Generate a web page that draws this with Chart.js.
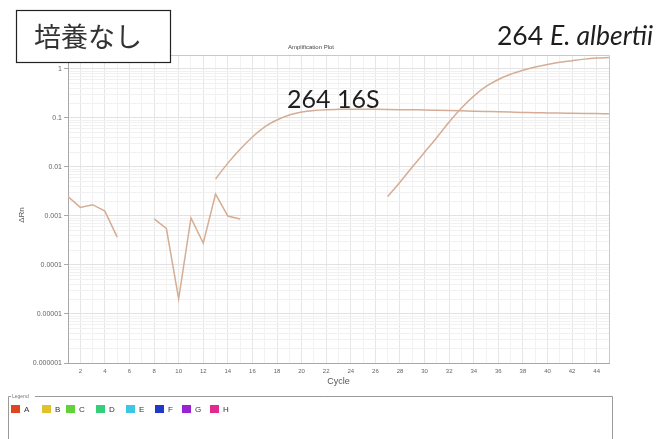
<!DOCTYPE html>
<html>
<head>
<meta charset="utf-8">
<script src="https://cdn.jsdelivr.net/npm/chart.js@4/dist/chart.umd.min.js"></script>
<style>
  html, body { margin: 0; padding: 0; background: #fff; }
  canvas { display: block; }
</style>
</head>
<body>
<canvas id="plot" width="665" height="439"></canvas>
<script>
// Cycle numbers on the x axis
const cycles = [1,2,3,4,5,6,7,8,9,10,11,12,13,14,15,16,17,18,19,20,21,22,23,24,25,26,27,28,29,30,31,32,33,34,35,36,37,38,39,40,41,42,43,44,45];

// ΔRn per cycle (null where the value is not plotted)
const albertiiEarly = [0.0025,0.0015,0.0017,0.00126,0.00037,null,null,0.00087,0.00056,0.0000204,0.00091,0.00028,0.0028,0.001,0.00087,
  null,null,null,null,null,null,null,null,null,null,null,null,null,null,null,null,null,null,null,null,null,null,null,null,null,null,null,null,null,null];

const s16Values = [null,null,null,null,null,null,null,null,null,null,null,null,
  0.0057,0.012,0.023,0.041,0.066,0.091,0.115,0.132,0.142,0.148,0.150,0.151,0.151,0.150,0.149,0.148,0.147,0.146,0.144,0.142,0.140,0.138,0.136,0.134,0.132,0.130,0.128,0.127,0.126,0.125,0.124,0.123,0.122];

const albertiiValues = [null,null,null,null,null,null,null,null,null,null,null,null,null,null,null,null,null,null,null,null,null,null,null,null,null,null,
  0.0025,0.0049,0.0100,0.020,0.040,0.083,0.160,0.280,0.44,0.61,0.78,0.94,1.10,1.24,1.37,1.48,1.59,1.67,1.72];

// Axis tick labels
const yTickLabels = ['0.000001','0.00001','0.0001','0.001','0.01','0.1','1'];
const xTickLabels = ['2','4','6','8','10','12','14','16','18','20','22','24','26','28','30','32','34','36','38','40','42','44'];

// Well legend
const legendNames = ['A','B','C','D','E','F','G','H'];
const legendColors = ['#e0461e','#e2c22c','#62d23a','#34cf78','#3ec6e6','#2238c8','#9a22d4','#e02a8c'];

// Text labels
const panelLabel = '培養なし';
const chartTitle = 'Amplification Plot';
const label16S = '264 16S';
const labelAlbertiiPrefix = '264 ';
const labelAlbertiiSpecies = 'E. albertii';

const lineColor = '#d4ad94';
const yMin = 1e-6, yMax = 1.93;
const minorSteps = [2,3,4,5,6,7,8,9];

function toPoints(values) {
  return cycles.map((c, i) => ({ x: c, y: values[i] }));
}

const decorations = {
  id: 'decorations',
  beforeDraw(chart) {
    const ctx = chart.ctx;
    ctx.save();
    ctx.fillStyle = '#fff';
    ctx.fillRect(0, 0, chart.width, chart.height);
    ctx.restore();
  },
  afterDraw(chart) {
    const ctx = chart.ctx;
    const a = chart.chartArea;
    ctx.save();

    // frame on top and right of the plot area
    ctx.strokeStyle = '#c9c9c9';
    ctx.lineWidth = 1;
    ctx.beginPath();
    ctx.moveTo(a.left, a.top + 0.5);
    ctx.lineTo(a.right + 0.5, a.top + 0.5);
    ctx.lineTo(a.right + 0.5, a.bottom);
    ctx.stroke();

    // chart title
    ctx.fillStyle = '#444';
    ctx.font = '6px "Liberation Sans", Arial, sans-serif';
    ctx.textAlign = 'center';
    ctx.textBaseline = 'middle';
    ctx.fillText(chartTitle, 311, 47);

    // y axis title
    ctx.save();
    ctx.translate(22, 215);
    ctx.rotate(-Math.PI / 2);
    ctx.fillStyle = '#555';
    ctx.font = '8px "Liberation Sans", Arial, sans-serif';
    ctx.fillText('ΔRn', 0, 0);
    ctx.restore();

    // panel label box
    ctx.fillStyle = '#fff';
    ctx.fillRect(16, 10, 155, 53);
    ctx.strokeStyle = '#222';
    ctx.lineWidth = 1.2;
    ctx.strokeRect(16.5, 10.5, 154, 52);
    ctx.fillStyle = '#333';
    ctx.font = '27px "Noto Sans CJK JP", sans-serif';
    ctx.textAlign = 'left';
    ctx.textBaseline = 'alphabetic';
    ctx.fillText(panelLabel, 34, 47);

    // curve labels
    ctx.fillStyle = '#1e1e1e';
    ctx.font = '25px Lato, "Open Sans", sans-serif';
    ctx.fillText(label16S, 287, 108);
    ctx.font = '26.5px Lato, "Open Sans", sans-serif';
    ctx.fillText(labelAlbertiiPrefix, 497, 45);
    const w = ctx.measureText(labelAlbertiiPrefix).width;
    ctx.font = 'italic 26.5px Lato, "Open Sans", sans-serif';
    ctx.fillText(labelAlbertiiSpecies, 497 + w, 45);

    // legend panel
    ctx.strokeStyle = '#9a9a9a';
    ctx.lineWidth = 1;
    ctx.beginPath();
    ctx.moveTo(11, 396.5);
    ctx.lineTo(8.5, 396.5);
    ctx.lineTo(8.5, 439);
    ctx.moveTo(35, 396.5);
    ctx.lineTo(612.5, 396.5);
    ctx.lineTo(612.5, 439);
    ctx.stroke();
    ctx.fillStyle = '#777';
    ctx.font = '5px "Liberation Sans", Arial, sans-serif';
    ctx.textBaseline = 'middle';
    ctx.fillText('Legend', 12, 396.5);

    const itemX = [11, 42, 66, 96, 126, 155, 182, 210];
    ctx.font = '8px "Liberation Sans", Arial, sans-serif';
    legendNames.forEach((name, i) => {
      const x = itemX[i];
      ctx.fillStyle = legendColors[i];
      ctx.fillRect(x, 405, 9, 8);
      ctx.fillStyle = '#333';
      ctx.fillText(name, x + 13, 409.5);
    });

    ctx.restore();
  }
};

new Chart(document.getElementById('plot'), {
  type: 'line',
  data: {
    datasets: [
      { label: '264 E. albertii (early cycles)', data: toPoints(albertiiEarly), tension: 0 },
      { label: label16S, data: toPoints(s16Values), cubicInterpolationMode: 'monotone' },
      { label: labelAlbertiiPrefix + labelAlbertiiSpecies, data: toPoints(albertiiValues), cubicInterpolationMode: 'monotone' }
    ].map(d => Object.assign({
      borderColor: lineColor,
      borderWidth: 1.5,
      pointRadius: 0,
      spanGaps: false,
      fill: false
    }, d))
  },
  options: {
    responsive: false,
    animation: false,
    events: [],
    layout: { padding: { top: 55, right: 56, left: 0, bottom: 48 } },
    plugins: {
      legend: { display: false },
      title: { display: false },
      tooltip: { enabled: false }
    },
    scales: {
      x: {
        type: 'linear',
        min: 1,
        max: 45,
        afterFit(scale) { scale.height = 28; },
        afterBuildTicks(scale) {
          scale.ticks = cycles.map(c => ({ value: c }));
        },
        ticks: {
          autoSkip: false,
          maxRotation: 0,
          padding: 1,
          color: '#666',
          font: { size: 6, family: '"Liberation Sans", Arial, sans-serif' },
          callback(value) {
            const s = String(value);
            return xTickLabels.includes(s) ? s : '';
          }
        },
        grid: {
          color(ctx) {
            const v = ctx.tick && ctx.tick.value;
            return v % 2 === 0 ? '#e6e6e6' : '#f2f2f2';
          },
          tickLength: 4,
          tickColor: 'rgba(0,0,0,0)'
        },
        border: { color: '#a8a8a8', width: 1 },
        title: {
          display: true,
          text: 'Cycle',
          color: '#555',
          font: { size: 9, family: '"Liberation Sans", Arial, sans-serif' },
          padding: { top: 0, bottom: 4 }
        }
      },
      y: {
        type: 'logarithmic',
        min: yMin,
        max: yMax,
        afterFit(scale) { scale.width = 68; },
        afterBuildTicks(scale) {
          const t = [];
          yTickLabels.forEach(lbl => {
            const base = parseFloat(lbl);
            t.push({ value: base, major: true });
            minorSteps.forEach(m => {
              const v = base * m;
              if (v <= yMax && base < 1) t.push({ value: v, major: false });
            });
          });
          scale.ticks = t;
        },
        ticks: {
          autoSkip: false,
          padding: 2,
          color: '#666',
          font: { size: 7, family: '"Liberation Sans", Arial, sans-serif' },
          callback(value) {
            const idx = yTickLabels.findIndex(l => Math.abs(parseFloat(l) - value) / value < 1e-6);
            return idx >= 0 ? yTickLabels[idx] : '';
          }
        },
        grid: {
          color(ctx) {
            return ctx.tick && ctx.tick.major ? '#e2e2e2' : '#f1f1f1';
          },
          tickLength: 4,
          tickColor(ctx) {
            return ctx.tick && ctx.tick.major ? '#aaa' : 'rgba(0,0,0,0)';
          }
        },
        border: { color: '#a8a8a8', width: 1 },
        title: { display: false }
      }
    }
  },
  plugins: [decorations]
});
</script>
</body>
</html>
